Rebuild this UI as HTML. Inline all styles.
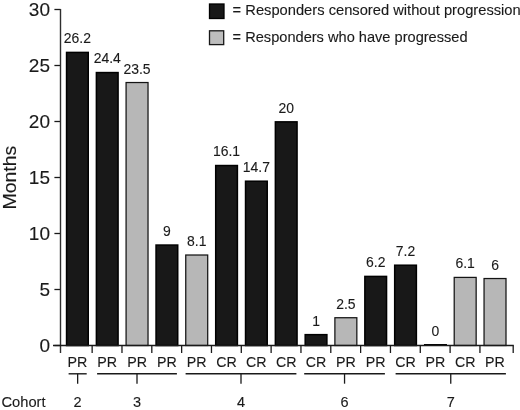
<!DOCTYPE html><html><head><meta charset="utf-8"><style>
html,body{margin:0;padding:0;background:#fff;}
svg{display:block;}
text{font-family:"Liberation Sans", sans-serif;fill:#1a1a1a;stroke:#1a1a1a;stroke-width:0.12px;}
</style></head><body>
<svg width="520" height="410" viewBox="0 0 520 410"><g style="will-change:transform">
<rect x="209.5" y="4" width="14.5" height="14.5" fill="#181818" stroke="#000" stroke-width="1.3"/>
<rect x="209.5" y="30.8" width="14.2" height="13.8" fill="#bdbdbd" stroke="#181818" stroke-width="1.3"/>
<text x="232.6" y="15.3" font-size="14.5" textLength="288.11" lengthAdjust="spacingAndGlyphs">= Responders censored without progression</text>
<text x="232.6" y="42" font-size="14.5" textLength="234.99" lengthAdjust="spacingAndGlyphs">= Responders who have progressed</text>
<text transform="translate(16.1,209.6) rotate(-90)" font-size="18.3" textLength="63.91" lengthAdjust="spacingAndGlyphs">Months</text>
<line x1="54.4" y1="345.5" x2="60.5" y2="345.5" stroke="#1a1a1a" stroke-width="1.3"/>
<text x="50" y="352.3" font-size="19" text-anchor="end">0</text>
<line x1="54.4" y1="289.5" x2="60.5" y2="289.5" stroke="#1a1a1a" stroke-width="1.3"/>
<text x="50" y="296.3" font-size="19" text-anchor="end">5</text>
<line x1="54.4" y1="233.5" x2="60.5" y2="233.5" stroke="#1a1a1a" stroke-width="1.3"/>
<text x="50" y="240.3" font-size="19" text-anchor="end">10</text>
<line x1="54.4" y1="177.5" x2="60.5" y2="177.5" stroke="#1a1a1a" stroke-width="1.3"/>
<text x="50" y="184.3" font-size="19" text-anchor="end">15</text>
<line x1="54.4" y1="121.5" x2="60.5" y2="121.5" stroke="#1a1a1a" stroke-width="1.3"/>
<text x="50" y="128.3" font-size="19" text-anchor="end">20</text>
<line x1="54.4" y1="65.5" x2="60.5" y2="65.5" stroke="#1a1a1a" stroke-width="1.3"/>
<text x="50" y="72.3" font-size="19" text-anchor="end">25</text>
<line x1="54.4" y1="9.5" x2="60.5" y2="9.5" stroke="#1a1a1a" stroke-width="1.3"/>
<text x="50" y="16.3" font-size="19" text-anchor="end">30</text>
<rect x="66.55" y="52.41" width="21.70" height="293.09" fill="#181818" stroke="#000" stroke-width="1.5"/>
<text x="77.40" y="43.26" font-size="15" text-anchor="middle" textLength="27.15" lengthAdjust="spacingAndGlyphs">26.2</text>
<text x="77.40" y="367.3" font-size="15" text-anchor="middle" textLength="19.80" lengthAdjust="spacingAndGlyphs">PR</text>
<rect x="96.38" y="72.57" width="21.70" height="272.93" fill="#181818" stroke="#000" stroke-width="1.5"/>
<text x="107.23" y="63.42" font-size="15" text-anchor="middle" textLength="27.15" lengthAdjust="spacingAndGlyphs">24.4</text>
<text x="107.23" y="367.3" font-size="15" text-anchor="middle" textLength="19.80" lengthAdjust="spacingAndGlyphs">PR</text>
<rect x="126.08" y="82.53" width="21.95" height="262.98" fill="#b7b7b7" stroke="#141414" stroke-width="1.25"/>
<text x="137.06" y="73.50" font-size="15" text-anchor="middle" textLength="27.15" lengthAdjust="spacingAndGlyphs">23.5</text>
<text x="137.06" y="367.3" font-size="15" text-anchor="middle" textLength="19.80" lengthAdjust="spacingAndGlyphs">PR</text>
<rect x="156.04" y="245.05" width="21.70" height="100.45" fill="#181818" stroke="#000" stroke-width="1.5"/>
<text x="166.89" y="235.90" font-size="15" text-anchor="middle" textLength="7.76" lengthAdjust="spacingAndGlyphs">9</text>
<text x="166.89" y="367.3" font-size="15" text-anchor="middle" textLength="19.80" lengthAdjust="spacingAndGlyphs">PR</text>
<rect x="185.75" y="255.01" width="21.95" height="90.49" fill="#b7b7b7" stroke="#141414" stroke-width="1.25"/>
<text x="196.72" y="245.98" font-size="15" text-anchor="middle" textLength="19.39" lengthAdjust="spacingAndGlyphs">8.1</text>
<text x="196.72" y="367.3" font-size="15" text-anchor="middle" textLength="19.80" lengthAdjust="spacingAndGlyphs">PR</text>
<rect x="215.70" y="165.53" width="21.70" height="179.97" fill="#181818" stroke="#000" stroke-width="1.5"/>
<text x="226.55" y="156.38" font-size="15" text-anchor="middle" textLength="27.15" lengthAdjust="spacingAndGlyphs">16.1</text>
<text x="226.55" y="367.3" font-size="15" text-anchor="middle" textLength="20.58" lengthAdjust="spacingAndGlyphs">CR</text>
<rect x="245.53" y="181.21" width="21.70" height="164.29" fill="#181818" stroke="#000" stroke-width="1.5"/>
<text x="256.38" y="172.06" font-size="15" text-anchor="middle" textLength="27.15" lengthAdjust="spacingAndGlyphs">14.7</text>
<text x="256.38" y="367.3" font-size="15" text-anchor="middle" textLength="20.58" lengthAdjust="spacingAndGlyphs">CR</text>
<rect x="275.36" y="121.85" width="21.70" height="223.65" fill="#181818" stroke="#000" stroke-width="1.5"/>
<text x="286.21" y="112.70" font-size="15" text-anchor="middle" textLength="15.52" lengthAdjust="spacingAndGlyphs">20</text>
<text x="286.21" y="367.3" font-size="15" text-anchor="middle" textLength="20.58" lengthAdjust="spacingAndGlyphs">CR</text>
<rect x="305.19" y="334.65" width="21.70" height="10.85" fill="#181818" stroke="#000" stroke-width="1.5"/>
<text x="316.04" y="325.50" font-size="15" text-anchor="middle" textLength="7.76" lengthAdjust="spacingAndGlyphs">1</text>
<text x="316.04" y="367.3" font-size="15" text-anchor="middle" textLength="20.58" lengthAdjust="spacingAndGlyphs">CR</text>
<rect x="334.89" y="317.73" width="21.95" height="27.77" fill="#b7b7b7" stroke="#141414" stroke-width="1.25"/>
<text x="345.87" y="308.70" font-size="15" text-anchor="middle" textLength="19.39" lengthAdjust="spacingAndGlyphs">2.5</text>
<text x="345.87" y="367.3" font-size="15" text-anchor="middle" textLength="19.80" lengthAdjust="spacingAndGlyphs">PR</text>
<rect x="364.85" y="276.41" width="21.70" height="69.09" fill="#181818" stroke="#000" stroke-width="1.5"/>
<text x="375.70" y="267.26" font-size="15" text-anchor="middle" textLength="19.39" lengthAdjust="spacingAndGlyphs">6.2</text>
<text x="375.70" y="367.3" font-size="15" text-anchor="middle" textLength="19.80" lengthAdjust="spacingAndGlyphs">PR</text>
<rect x="394.68" y="265.21" width="21.70" height="80.29" fill="#181818" stroke="#000" stroke-width="1.5"/>
<text x="405.53" y="256.06" font-size="15" text-anchor="middle" textLength="19.39" lengthAdjust="spacingAndGlyphs">7.2</text>
<text x="405.53" y="367.3" font-size="15" text-anchor="middle" textLength="20.58" lengthAdjust="spacingAndGlyphs">CR</text>
<rect x="423.96" y="344.0" width="23.00" height="1.5" fill="#000"/>
<text x="435.36" y="335.70" font-size="15" text-anchor="middle" textLength="7.76" lengthAdjust="spacingAndGlyphs">0</text>
<text x="435.36" y="367.3" font-size="15" text-anchor="middle" textLength="19.80" lengthAdjust="spacingAndGlyphs">PR</text>
<rect x="454.21" y="277.41" width="21.95" height="68.09" fill="#b7b7b7" stroke="#141414" stroke-width="1.25"/>
<text x="465.19" y="268.38" font-size="15" text-anchor="middle" textLength="19.39" lengthAdjust="spacingAndGlyphs">6.1</text>
<text x="465.19" y="367.3" font-size="15" text-anchor="middle" textLength="20.58" lengthAdjust="spacingAndGlyphs">CR</text>
<rect x="484.05" y="278.53" width="21.95" height="66.97" fill="#b7b7b7" stroke="#141414" stroke-width="1.25"/>
<text x="495.02" y="269.50" font-size="15" text-anchor="middle" textLength="7.76" lengthAdjust="spacingAndGlyphs">6</text>
<text x="495.02" y="367.3" font-size="15" text-anchor="middle" textLength="19.80" lengthAdjust="spacingAndGlyphs">PR</text>
<line x1="60.5" y1="9" x2="60.5" y2="353" stroke="#2e2e2e" stroke-width="1.4"/>
<line x1="53" y1="345.5" x2="513.8" y2="345.5" stroke="#1a1a1a" stroke-width="1.3"/>
<line x1="92.15" y1="345.5" x2="92.15" y2="353" stroke="#1a1a1a" stroke-width="1.3"/>
<line x1="121.98" y1="345.5" x2="121.98" y2="353" stroke="#1a1a1a" stroke-width="1.3"/>
<line x1="151.81" y1="345.5" x2="151.81" y2="353" stroke="#1a1a1a" stroke-width="1.3"/>
<line x1="181.64" y1="345.5" x2="181.64" y2="353" stroke="#1a1a1a" stroke-width="1.3"/>
<line x1="211.47" y1="345.5" x2="211.47" y2="353" stroke="#1a1a1a" stroke-width="1.3"/>
<line x1="241.30" y1="345.5" x2="241.30" y2="353" stroke="#1a1a1a" stroke-width="1.3"/>
<line x1="271.13" y1="345.5" x2="271.13" y2="353" stroke="#1a1a1a" stroke-width="1.3"/>
<line x1="300.96" y1="345.5" x2="300.96" y2="353" stroke="#1a1a1a" stroke-width="1.3"/>
<line x1="330.79" y1="345.5" x2="330.79" y2="353" stroke="#1a1a1a" stroke-width="1.3"/>
<line x1="360.62" y1="345.5" x2="360.62" y2="353" stroke="#1a1a1a" stroke-width="1.3"/>
<line x1="390.45" y1="345.5" x2="390.45" y2="353" stroke="#1a1a1a" stroke-width="1.3"/>
<line x1="420.28" y1="345.5" x2="420.28" y2="353" stroke="#1a1a1a" stroke-width="1.3"/>
<line x1="450.11" y1="345.5" x2="450.11" y2="353" stroke="#1a1a1a" stroke-width="1.3"/>
<line x1="479.94" y1="345.5" x2="479.94" y2="353" stroke="#1a1a1a" stroke-width="1.3"/>
<line x1="513.2" y1="345.5" x2="513.2" y2="353" stroke="#1a1a1a" stroke-width="1.3"/>
<line x1="68.60" y1="373.8" x2="86.70" y2="373.8" stroke="#1a1a1a" stroke-width="1.4"/>
<line x1="77.65" y1="373.8" x2="77.65" y2="383.7" stroke="#1a1a1a" stroke-width="1.3"/>
<text x="77.65" y="406.5" font-size="14.5" text-anchor="middle">2</text>
<line x1="97.10" y1="373.8" x2="176.90" y2="373.8" stroke="#1a1a1a" stroke-width="1.4"/>
<line x1="137.00" y1="373.8" x2="137.00" y2="383.7" stroke="#1a1a1a" stroke-width="1.3"/>
<text x="137.00" y="406.5" font-size="14.5" text-anchor="middle">3</text>
<line x1="185.60" y1="373.8" x2="296.40" y2="373.8" stroke="#1a1a1a" stroke-width="1.4"/>
<line x1="241.00" y1="373.8" x2="241.00" y2="383.7" stroke="#1a1a1a" stroke-width="1.3"/>
<text x="241.00" y="406.5" font-size="14.5" text-anchor="middle">4</text>
<line x1="304.20" y1="373.8" x2="384.90" y2="373.8" stroke="#1a1a1a" stroke-width="1.4"/>
<line x1="344.55" y1="373.8" x2="344.55" y2="383.7" stroke="#1a1a1a" stroke-width="1.3"/>
<text x="344.55" y="406.5" font-size="14.5" text-anchor="middle">6</text>
<line x1="395.60" y1="373.8" x2="505.90" y2="373.8" stroke="#1a1a1a" stroke-width="1.4"/>
<line x1="450.75" y1="373.8" x2="450.75" y2="383.7" stroke="#1a1a1a" stroke-width="1.3"/>
<text x="450.75" y="406.5" font-size="14.5" text-anchor="middle">7</text>
<text x="1.5" y="406.7" font-size="15.2" textLength="44.03" lengthAdjust="spacingAndGlyphs">Cohort</text>
</g></svg></body></html>
